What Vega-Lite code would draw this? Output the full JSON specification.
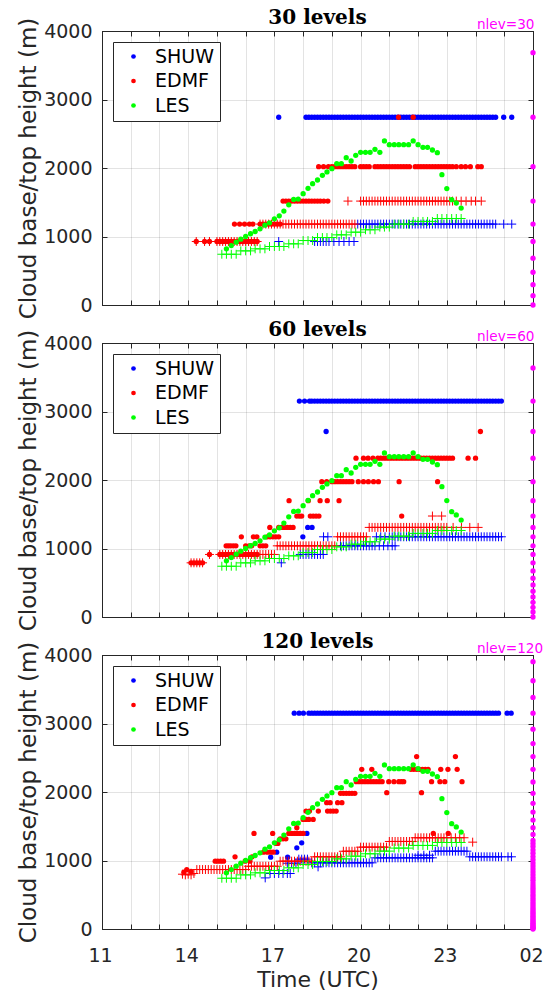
{
"$schema":"https://vega.github.io/schema/vega-lite/v6.json",
"padding":{"left":17,"top":7,"right":0,"bottom":0},
"datasets":{
"s30t":[{"t":17.15,"h":2741},{"t":18.1,"h":2741},{"t":18.2,"h":2741},{"t":18.3,"h":2741},{"t":18.4,"h":2741},{"t":18.5,"h":2741},{"t":18.6,"h":2741},{"t":18.7,"h":2741},{"t":18.8,"h":2741},{"t":18.9,"h":2741},{"t":19,"h":2741},{"t":19.1,"h":2741},{"t":19.2,"h":2741},{"t":19.3,"h":2741},{"t":19.4,"h":2741},{"t":19.5,"h":2741},{"t":19.6,"h":2741},{"t":19.7,"h":2741},{"t":19.8,"h":2741},{"t":19.9,"h":2741},{"t":20,"h":2741},{"t":20.1,"h":2741},{"t":20.2,"h":2741},{"t":20.3,"h":2741},{"t":20.4,"h":2741},{"t":20.5,"h":2741},{"t":20.6,"h":2741},{"t":20.7,"h":2741},{"t":20.8,"h":2741},{"t":20.9,"h":2741},{"t":21,"h":2741},{"t":21.1,"h":2741},{"t":21.2,"h":2741},{"t":21.3,"h":2741},{"t":21.4,"h":2741},{"t":21.5,"h":2741},{"t":21.6,"h":2741},{"t":21.7,"h":2741},{"t":21.8,"h":2741},{"t":21.9,"h":2741},{"t":22,"h":2741},{"t":22.1,"h":2741},{"t":22.2,"h":2741},{"t":22.3,"h":2741},{"t":22.4,"h":2741},{"t":22.5,"h":2741},{"t":22.6,"h":2741},{"t":22.7,"h":2741},{"t":22.8,"h":2741},{"t":22.9,"h":2741},{"t":23,"h":2741},{"t":23.1,"h":2741},{"t":23.2,"h":2741},{"t":23.3,"h":2741},{"t":23.4,"h":2741},{"t":23.5,"h":2741},{"t":23.6,"h":2741},{"t":23.7,"h":2741},{"t":23.8,"h":2741},{"t":23.9,"h":2741},{"t":24,"h":2741},{"t":24.1,"h":2741},{"t":24.2,"h":2741},{"t":24.3,"h":2741},{"t":24.4,"h":2741},{"t":24.5,"h":2741},{"t":24.6,"h":2741},{"t":24.7,"h":2741},{"t":24.98,"h":2741},{"t":25.26,"h":2741}],
"s30b":[{"t":17.15,"h":927},{"t":18.4,"h":927},{"t":18.5,"h":927},{"t":18.6,"h":927},{"t":18.7,"h":927},{"t":18.8,"h":927},{"t":18.9,"h":927},{"t":19.07,"h":927},{"t":19.25,"h":927},{"t":19.42,"h":927},{"t":19.6,"h":927},{"t":19.77,"h":927},{"t":19.9,"h":1181},{"t":20,"h":1181},{"t":20.1,"h":1181},{"t":20.2,"h":1181},{"t":20.3,"h":1181},{"t":20.4,"h":1181},{"t":20.5,"h":1181},{"t":20.6,"h":1181},{"t":20.7,"h":1181},{"t":20.8,"h":1181},{"t":20.9,"h":1181},{"t":21,"h":1181},{"t":21.1,"h":1181},{"t":21.2,"h":1181},{"t":21.3,"h":1181},{"t":21.4,"h":1181},{"t":21.5,"h":1181},{"t":21.6,"h":1181},{"t":21.7,"h":1181},{"t":21.8,"h":1181},{"t":21.9,"h":1181},{"t":22,"h":1181},{"t":22.1,"h":1181},{"t":22.2,"h":1181},{"t":22.3,"h":1181},{"t":22.4,"h":1181},{"t":22.5,"h":1181},{"t":22.6,"h":1181},{"t":22.7,"h":1181},{"t":22.8,"h":1181},{"t":22.9,"h":1181},{"t":23,"h":1181},{"t":23.1,"h":1181},{"t":23.2,"h":1181},{"t":23.3,"h":1181},{"t":23.4,"h":1181},{"t":23.5,"h":1181},{"t":23.6,"h":1181},{"t":23.7,"h":1181},{"t":23.8,"h":1181},{"t":23.9,"h":1181},{"t":24,"h":1181},{"t":24.1,"h":1181},{"t":24.2,"h":1181},{"t":24.3,"h":1181},{"t":24.4,"h":1181},{"t":24.5,"h":1181},{"t":24.6,"h":1181},{"t":24.7,"h":1181},{"t":24.98,"h":1181},{"t":25.26,"h":1181}],
"e30t":[{"t":14.28,"h":927},{"t":14.57,"h":927},{"t":14.74,"h":927},{"t":15,"h":927},{"t":15.1,"h":927},{"t":15.2,"h":927},{"t":15.3,"h":927},{"t":15.4,"h":927},{"t":15.5,"h":927},{"t":15.6,"h":927},{"t":15.7,"h":927},{"t":15.8,"h":927},{"t":15.9,"h":927},{"t":16,"h":927},{"t":16.1,"h":927},{"t":16.2,"h":927},{"t":16.3,"h":927},{"t":16.4,"h":927},{"t":15.61,"h":1181},{"t":15.79,"h":1181},{"t":15.96,"h":1181},{"t":16.13,"h":1181},{"t":16.25,"h":1181},{"t":16.5,"h":1181},{"t":16.6,"h":1181},{"t":16.7,"h":1181},{"t":16.8,"h":1181},{"t":16.9,"h":1181},{"t":17,"h":1181},{"t":17.1,"h":1181},{"t":17.2,"h":1181},{"t":17.3,"h":1517},{"t":17.4,"h":1517},{"t":17.5,"h":1517},{"t":17.6,"h":1517},{"t":17.7,"h":1517},{"t":17.8,"h":1517},{"t":17.9,"h":1517},{"t":18,"h":1517},{"t":18.1,"h":1517},{"t":18.2,"h":1517},{"t":18.3,"h":1517},{"t":18.4,"h":1517},{"t":18.5,"h":1517},{"t":18.6,"h":1517},{"t":18.72,"h":1517},{"t":18.86,"h":1517},{"t":18.54,"h":2020},{"t":18.71,"h":2020},{"t":18.88,"h":2020},{"t":19,"h":2020},{"t":19.1,"h":2020},{"t":19.2,"h":2020},{"t":19.3,"h":2020},{"t":19.4,"h":2020},{"t":19.5,"h":2020},{"t":19.6,"h":2020},{"t":19.7,"h":2020},{"t":19.8,"h":2020},{"t":20,"h":2020},{"t":20.1,"h":2020},{"t":20.2,"h":2020},{"t":20.3,"h":2020},{"t":20.5,"h":2020},{"t":20.6,"h":2020},{"t":20.7,"h":2020},{"t":20.8,"h":2020},{"t":20.9,"h":2020},{"t":21,"h":2020},{"t":21.1,"h":2020},{"t":21.2,"h":2020},{"t":21.3,"h":2020},{"t":21.4,"h":2020},{"t":21.5,"h":2020},{"t":21.6,"h":2020},{"t":21.7,"h":2020},{"t":21.9,"h":2020},{"t":22,"h":2020},{"t":22.1,"h":2020},{"t":22.2,"h":2020},{"t":22.3,"h":2020},{"t":22.4,"h":2020},{"t":22.5,"h":2020},{"t":22.6,"h":2020},{"t":22.7,"h":2020},{"t":22.8,"h":2020},{"t":22.9,"h":2020},{"t":23,"h":2020},{"t":23.1,"h":2020},{"t":23.2,"h":2020},{"t":23.33,"h":2020},{"t":23.5,"h":2020},{"t":23.65,"h":2020},{"t":23.82,"h":2020},{"t":24.08,"h":2020},{"t":24.2,"h":2020},{"t":21.32,"h":2741},{"t":21.83,"h":2741}],
"e30b":[{"t":14.28,"h":927},{"t":14.57,"h":927},{"t":14.74,"h":927},{"t":15,"h":927},{"t":15.1,"h":927},{"t":15.2,"h":927},{"t":15.3,"h":927},{"t":15.4,"h":927},{"t":15.5,"h":927},{"t":15.6,"h":927},{"t":15.7,"h":927},{"t":15.8,"h":927},{"t":15.9,"h":927},{"t":16,"h":927},{"t":16.1,"h":927},{"t":16.2,"h":927},{"t":16.3,"h":927},{"t":16.4,"h":927},{"t":16.5,"h":1181},{"t":16.6,"h":1181},{"t":16.7,"h":1181},{"t":16.8,"h":1181},{"t":16.9,"h":1181},{"t":17,"h":1181},{"t":17.1,"h":1181},{"t":17.2,"h":1181},{"t":17.3,"h":1181},{"t":17.4,"h":1181},{"t":17.5,"h":1181},{"t":17.6,"h":1181},{"t":17.7,"h":1181},{"t":17.8,"h":1181},{"t":17.9,"h":1181},{"t":18,"h":1181},{"t":18.1,"h":1181},{"t":18.2,"h":1181},{"t":18.3,"h":1181},{"t":18.4,"h":1181},{"t":18.5,"h":1181},{"t":18.6,"h":1181},{"t":18.7,"h":1181},{"t":18.8,"h":1181},{"t":18.9,"h":1181},{"t":19,"h":1181},{"t":19.1,"h":1181},{"t":19.2,"h":1181},{"t":19.3,"h":1181},{"t":19.4,"h":1181},{"t":19.5,"h":1181},{"t":19.6,"h":1181},{"t":19.7,"h":1181},{"t":19.8,"h":1181},{"t":19.56,"h":1517},{"t":20,"h":1517},{"t":20.1,"h":1517},{"t":20.2,"h":1517},{"t":20.3,"h":1517},{"t":20.4,"h":1517},{"t":20.5,"h":1517},{"t":20.6,"h":1517},{"t":20.7,"h":1517},{"t":20.8,"h":1517},{"t":20.9,"h":1517},{"t":21,"h":1517},{"t":21.1,"h":1517},{"t":21.2,"h":1517},{"t":21.3,"h":1517},{"t":21.4,"h":1517},{"t":21.5,"h":1517},{"t":21.6,"h":1517},{"t":21.7,"h":1517},{"t":21.8,"h":1517},{"t":21.9,"h":1517},{"t":22,"h":1517},{"t":22.1,"h":1517},{"t":22.2,"h":1517},{"t":22.3,"h":1517},{"t":22.4,"h":1517},{"t":22.5,"h":1517},{"t":22.6,"h":1517},{"t":22.7,"h":1517},{"t":22.8,"h":1517},{"t":22.9,"h":1517},{"t":23,"h":1517},{"t":23.1,"h":1517},{"t":23.2,"h":1517},{"t":23.33,"h":1517},{"t":23.5,"h":1517},{"t":23.67,"h":1517},{"t":23.85,"h":1517},{"t":24,"h":1517},{"t":24.2,"h":1517}],
"lt":[{"t":15.33,"h":820},{"t":15.5,"h":868},{"t":15.67,"h":917},{"t":15.83,"h":961},{"t":16,"h":1000},{"t":16.17,"h":1040},{"t":16.33,"h":1073},{"t":16.5,"h":1112},{"t":16.67,"h":1166},{"t":16.83,"h":1200},{"t":17,"h":1258},{"t":17.17,"h":1302},{"t":17.33,"h":1371},{"t":17.5,"h":1463},{"t":17.67,"h":1541},{"t":17.83,"h":1546},{"t":18,"h":1625},{"t":18.17,"h":1704},{"t":18.33,"h":1771},{"t":18.5,"h":1825},{"t":18.67,"h":1893},{"t":18.83,"h":1942},{"t":19,"h":1990},{"t":19.17,"h":2063},{"t":19.33,"h":2063},{"t":19.5,"h":2151},{"t":19.67,"h":2102},{"t":19.83,"h":2185},{"t":20,"h":2229},{"t":20.17,"h":2229},{"t":20.33,"h":2229},{"t":20.5,"h":2273},{"t":20.67,"h":2229},{"t":20.83,"h":2395},{"t":21,"h":2341},{"t":21.17,"h":2341},{"t":21.33,"h":2341},{"t":21.5,"h":2341},{"t":21.67,"h":2341},{"t":21.83,"h":2395},{"t":22,"h":2341},{"t":22.17,"h":2302},{"t":22.33,"h":2302},{"t":22.5,"h":2263},{"t":22.67,"h":2224},{"t":22.83,"h":1902},{"t":23,"h":1700},{"t":23.17,"h":1537},{"t":23.33,"h":1490},{"t":23.5,"h":1415}],
"lb":[{"t":15.17,"h":741},{"t":15.33,"h":741},{"t":15.5,"h":741},{"t":15.67,"h":741},{"t":15.83,"h":790},{"t":16,"h":790},{"t":16.17,"h":790},{"t":16.33,"h":820},{"t":16.5,"h":820},{"t":16.67,"h":820},{"t":16.83,"h":854},{"t":17,"h":854},{"t":17.17,"h":854},{"t":17.33,"h":854},{"t":17.5,"h":893},{"t":17.67,"h":893},{"t":17.83,"h":893},{"t":18,"h":941},{"t":18.17,"h":941},{"t":18.33,"h":941},{"t":18.5,"h":985},{"t":18.67,"h":985},{"t":18.83,"h":985},{"t":19,"h":985},{"t":19.17,"h":1024},{"t":19.33,"h":1024},{"t":19.5,"h":1024},{"t":19.67,"h":1063},{"t":19.83,"h":1063},{"t":20,"h":1063},{"t":20.17,"h":1098},{"t":20.33,"h":1098},{"t":20.5,"h":1098},{"t":20.67,"h":1137},{"t":20.83,"h":1137},{"t":21,"h":1137},{"t":21.17,"h":1181},{"t":21.33,"h":1181},{"t":21.5,"h":1181},{"t":21.67,"h":1181},{"t":21.83,"h":1220},{"t":22,"h":1220},{"t":22.17,"h":1220},{"t":22.33,"h":1220},{"t":22.5,"h":1220},{"t":22.67,"h":1263},{"t":22.83,"h":1263},{"t":23,"h":1263},{"t":23.17,"h":1263},{"t":23.33,"h":1263},{"t":23.5,"h":1263}],
"s60t":[{"t":17.87,"h":3152},{"t":18.05,"h":3152},{"t":18.22,"h":3152},{"t":18.3,"h":3152},{"t":18.4,"h":3152},{"t":18.5,"h":3152},{"t":18.6,"h":3152},{"t":18.7,"h":3152},{"t":18.8,"h":3152},{"t":18.9,"h":3152},{"t":19,"h":3152},{"t":19.1,"h":3152},{"t":19.2,"h":3152},{"t":19.3,"h":3152},{"t":19.4,"h":3152},{"t":19.5,"h":3152},{"t":19.6,"h":3152},{"t":19.7,"h":3152},{"t":19.8,"h":3152},{"t":19.9,"h":3152},{"t":20,"h":3152},{"t":20.1,"h":3152},{"t":20.2,"h":3152},{"t":20.3,"h":3152},{"t":20.4,"h":3152},{"t":20.5,"h":3152},{"t":20.6,"h":3152},{"t":20.7,"h":3152},{"t":20.8,"h":3152},{"t":20.9,"h":3152},{"t":21,"h":3152},{"t":21.1,"h":3152},{"t":21.2,"h":3152},{"t":21.3,"h":3152},{"t":21.4,"h":3152},{"t":21.5,"h":3152},{"t":21.6,"h":3152},{"t":21.7,"h":3152},{"t":21.8,"h":3152},{"t":21.9,"h":3152},{"t":22,"h":3152},{"t":22.1,"h":3152},{"t":22.2,"h":3152},{"t":22.3,"h":3152},{"t":22.4,"h":3152},{"t":22.5,"h":3152},{"t":22.6,"h":3152},{"t":22.7,"h":3152},{"t":22.8,"h":3152},{"t":22.9,"h":3152},{"t":23,"h":3152},{"t":23.1,"h":3152},{"t":23.2,"h":3152},{"t":23.3,"h":3152},{"t":23.4,"h":3152},{"t":23.5,"h":3152},{"t":23.6,"h":3152},{"t":23.7,"h":3152},{"t":23.8,"h":3152},{"t":23.9,"h":3152},{"t":24,"h":3152},{"t":24.1,"h":3152},{"t":24.2,"h":3152},{"t":24.3,"h":3152},{"t":24.4,"h":3152},{"t":24.5,"h":3152},{"t":24.6,"h":3152},{"t":24.7,"h":3152},{"t":24.8,"h":3152},{"t":24.9,"h":3152},{"t":18.8,"h":2708},{"t":18.16,"h":1308},{"t":18.31,"h":1308},{"t":17.99,"h":1171}],
"s60b":[{"t":17.24,"h":791},{"t":17.9,"h":913},{"t":18,"h":913},{"t":18.1,"h":913},{"t":18.2,"h":913},{"t":18.3,"h":913},{"t":18.4,"h":913},{"t":18.5,"h":913},{"t":18.6,"h":913},{"t":18.7,"h":913},{"t":18.71,"h":1171},{"t":18.86,"h":1171},{"t":19.3,"h":1039},{"t":19.4,"h":1039},{"t":19.5,"h":1039},{"t":19.6,"h":1039},{"t":19.7,"h":1039},{"t":19.8,"h":1039},{"t":19.9,"h":1039},{"t":20,"h":1039},{"t":20.1,"h":1039},{"t":20.2,"h":1039},{"t":20.3,"h":1039},{"t":20.4,"h":1039},{"t":20.5,"h":1039},{"t":20.65,"h":1039},{"t":20.8,"h":1039},{"t":20.95,"h":1039},{"t":21.1,"h":1039},{"t":21.2,"h":1039},{"t":20.55,"h":1171},{"t":20.7,"h":1171},{"t":20.85,"h":1171},{"t":21,"h":1171},{"t":21.1,"h":1171},{"t":21.2,"h":1171},{"t":21.3,"h":1171},{"t":21.4,"h":1171},{"t":21.5,"h":1171},{"t":21.6,"h":1171},{"t":21.7,"h":1171},{"t":21.8,"h":1171},{"t":21.9,"h":1171},{"t":22,"h":1171},{"t":22.1,"h":1171},{"t":22.2,"h":1171},{"t":22.3,"h":1171},{"t":22.4,"h":1171},{"t":22.5,"h":1171},{"t":22.6,"h":1171},{"t":22.7,"h":1171},{"t":22.8,"h":1171},{"t":22.9,"h":1171},{"t":23,"h":1171},{"t":23.1,"h":1171},{"t":23.2,"h":1171},{"t":23.3,"h":1171},{"t":23.4,"h":1171},{"t":23.5,"h":1171},{"t":23.6,"h":1171},{"t":23.7,"h":1171},{"t":23.8,"h":1171},{"t":23.9,"h":1171},{"t":24,"h":1171},{"t":24.1,"h":1171},{"t":24.2,"h":1171},{"t":24.3,"h":1171},{"t":24.4,"h":1171},{"t":24.5,"h":1171},{"t":24.6,"h":1171},{"t":24.7,"h":1171},{"t":24.8,"h":1171},{"t":24.9,"h":1171}],
"e60t":[{"t":14.1,"h":791},{"t":14.2,"h":791},{"t":14.3,"h":791},{"t":14.4,"h":791},{"t":14.5,"h":791},{"t":14.74,"h":913},{"t":15.1,"h":913},{"t":15.2,"h":913},{"t":15.3,"h":913},{"t":15.4,"h":913},{"t":15.5,"h":913},{"t":15.6,"h":913},{"t":15.7,"h":913},{"t":15.8,"h":913},{"t":15.9,"h":913},{"t":16,"h":913},{"t":16.1,"h":913},{"t":16.2,"h":913},{"t":16.3,"h":913},{"t":16.4,"h":913},{"t":15.32,"h":1039},{"t":15.4,"h":1039},{"t":15.48,"h":1039},{"t":15.57,"h":1039},{"t":15.66,"h":1039},{"t":16,"h":1039},{"t":16.12,"h":1039},{"t":16.21,"h":1039},{"t":16.5,"h":1039},{"t":16.6,"h":1039},{"t":16.7,"h":1039},{"t":15.85,"h":1171},{"t":16.27,"h":1171},{"t":16.39,"h":1171},{"t":16.75,"h":1171},{"t":16.85,"h":1171},{"t":16.95,"h":1171},{"t":17.05,"h":1171},{"t":17.15,"h":1171},{"t":16.84,"h":1308},{"t":17.15,"h":1308},{"t":17.25,"h":1308},{"t":17.35,"h":1308},{"t":17.45,"h":1308},{"t":17.55,"h":1308},{"t":17.65,"h":1308},{"t":17.78,"h":1474},{"t":17.87,"h":1474},{"t":17.95,"h":1474},{"t":18.25,"h":1474},{"t":18.35,"h":1474},{"t":18.45,"h":1474},{"t":18.55,"h":1474},{"t":21.43,"h":1474},{"t":17.51,"h":1698},{"t":18.18,"h":1698},{"t":18.59,"h":1698},{"t":18.84,"h":1698},{"t":19.25,"h":1698},{"t":18.65,"h":1976},{"t":18.82,"h":1976},{"t":19,"h":1976},{"t":19.1,"h":1976},{"t":19.2,"h":1976},{"t":19.3,"h":1976},{"t":19.4,"h":1976},{"t":19.5,"h":1976},{"t":19.6,"h":1976},{"t":19.7,"h":1976},{"t":19.92,"h":1976},{"t":20.1,"h":1976},{"t":20.27,"h":1976},{"t":20.45,"h":1976},{"t":20.62,"h":1976},{"t":21.34,"h":1976},{"t":22.68,"h":1976},{"t":19.84,"h":2318},{"t":20.1,"h":2318},{"t":20.26,"h":2318},{"t":20.43,"h":2318},{"t":20.6,"h":2318},{"t":20.7,"h":2318},{"t":20.8,"h":2318},{"t":20.9,"h":2318},{"t":21,"h":2318},{"t":21.1,"h":2318},{"t":21.2,"h":2318},{"t":21.3,"h":2318},{"t":21.4,"h":2318},{"t":21.5,"h":2318},{"t":21.6,"h":2318},{"t":21.7,"h":2318},{"t":21.8,"h":2318},{"t":21.9,"h":2318},{"t":22,"h":2318},{"t":22.1,"h":2318},{"t":22.2,"h":2318},{"t":22.3,"h":2318},{"t":22.4,"h":2318},{"t":22.5,"h":2318},{"t":22.6,"h":2318},{"t":22.7,"h":2318},{"t":22.8,"h":2318},{"t":22.9,"h":2318},{"t":23,"h":2318},{"t":23.1,"h":2318},{"t":23.2,"h":2318},{"t":23.74,"h":2318},{"t":24,"h":2318},{"t":24.17,"h":2708}],
"e60b":[{"t":14.1,"h":791},{"t":14.2,"h":791},{"t":14.3,"h":791},{"t":14.4,"h":791},{"t":14.5,"h":791},{"t":14.74,"h":913},{"t":15.1,"h":913},{"t":15.2,"h":913},{"t":15.3,"h":913},{"t":15.4,"h":913},{"t":15.5,"h":913},{"t":15.6,"h":913},{"t":15.7,"h":913},{"t":15.8,"h":913},{"t":15.9,"h":913},{"t":16,"h":913},{"t":16.1,"h":913},{"t":16.2,"h":913},{"t":16.3,"h":913},{"t":16.4,"h":913},{"t":16.5,"h":913},{"t":16.6,"h":913},{"t":16.7,"h":913},{"t":16.8,"h":913},{"t":16.9,"h":913},{"t":17,"h":913},{"t":17.1,"h":1039},{"t":17.2,"h":1039},{"t":17.3,"h":1039},{"t":17.4,"h":1039},{"t":17.5,"h":1039},{"t":17.6,"h":1039},{"t":17.7,"h":1039},{"t":17.8,"h":1039},{"t":17.9,"h":1039},{"t":18,"h":1039},{"t":18.1,"h":1039},{"t":18.2,"h":1039},{"t":18.3,"h":1039},{"t":18.4,"h":1039},{"t":18.5,"h":1039},{"t":18.6,"h":1039},{"t":18.7,"h":1039},{"t":18.8,"h":1039},{"t":18.9,"h":1039},{"t":19,"h":1039},{"t":19.1,"h":1039},{"t":19.2,"h":1171},{"t":19.3,"h":1171},{"t":19.4,"h":1171},{"t":19.5,"h":1171},{"t":19.6,"h":1171},{"t":19.7,"h":1171},{"t":19.8,"h":1171},{"t":19.9,"h":1171},{"t":20,"h":1171},{"t":20.1,"h":1171},{"t":20.2,"h":1171},{"t":20.3,"h":1308},{"t":20.4,"h":1308},{"t":20.5,"h":1308},{"t":20.6,"h":1308},{"t":20.7,"h":1308},{"t":20.8,"h":1308},{"t":20.9,"h":1308},{"t":21,"h":1308},{"t":21.1,"h":1308},{"t":21.2,"h":1308},{"t":21.3,"h":1308},{"t":21.4,"h":1308},{"t":21.5,"h":1308},{"t":21.6,"h":1308},{"t":21.7,"h":1308},{"t":21.8,"h":1308},{"t":21.9,"h":1308},{"t":22,"h":1308},{"t":22.1,"h":1308},{"t":22.2,"h":1308},{"t":22.3,"h":1308},{"t":22.4,"h":1308},{"t":22.5,"h":1308},{"t":22.6,"h":1308},{"t":22.7,"h":1308},{"t":22.8,"h":1308},{"t":22.9,"h":1308},{"t":23,"h":1308},{"t":23.22,"h":1308},{"t":23.51,"h":1308},{"t":23.8,"h":1308},{"t":24.09,"h":1308},{"t":22.5,"h":1474},{"t":22.82,"h":1474}],
"s120t":[{"t":17.69,"h":3151},{"t":17.86,"h":3151},{"t":18.01,"h":3151},{"t":18.2,"h":3151},{"t":18.3,"h":3151},{"t":18.4,"h":3151},{"t":18.5,"h":3151},{"t":18.6,"h":3151},{"t":18.7,"h":3151},{"t":18.8,"h":3151},{"t":18.9,"h":3151},{"t":19,"h":3151},{"t":19.1,"h":3151},{"t":19.2,"h":3151},{"t":19.3,"h":3151},{"t":19.4,"h":3151},{"t":19.5,"h":3151},{"t":19.6,"h":3151},{"t":19.7,"h":3151},{"t":19.8,"h":3151},{"t":19.9,"h":3151},{"t":20,"h":3151},{"t":20.1,"h":3151},{"t":20.2,"h":3151},{"t":20.3,"h":3151},{"t":20.4,"h":3151},{"t":20.5,"h":3151},{"t":20.6,"h":3151},{"t":20.7,"h":3151},{"t":20.8,"h":3151},{"t":20.9,"h":3151},{"t":21,"h":3151},{"t":21.1,"h":3151},{"t":21.2,"h":3151},{"t":21.3,"h":3151},{"t":21.4,"h":3151},{"t":21.5,"h":3151},{"t":21.6,"h":3151},{"t":21.7,"h":3151},{"t":21.8,"h":3151},{"t":21.9,"h":3151},{"t":22,"h":3151},{"t":22.1,"h":3151},{"t":22.2,"h":3151},{"t":22.3,"h":3151},{"t":22.4,"h":3151},{"t":22.5,"h":3151},{"t":22.6,"h":3151},{"t":22.7,"h":3151},{"t":22.8,"h":3151},{"t":22.9,"h":3151},{"t":23,"h":3151},{"t":23.1,"h":3151},{"t":23.2,"h":3151},{"t":23.3,"h":3151},{"t":23.4,"h":3151},{"t":23.5,"h":3151},{"t":23.6,"h":3151},{"t":23.7,"h":3151},{"t":23.8,"h":3151},{"t":23.9,"h":3151},{"t":24,"h":3151},{"t":24.1,"h":3151},{"t":24.2,"h":3151},{"t":24.3,"h":3151},{"t":24.4,"h":3151},{"t":24.5,"h":3151},{"t":24.6,"h":3151},{"t":24.7,"h":3151},{"t":24.8,"h":3151},{"t":25.1,"h":3151},{"t":25.24,"h":3151},{"t":18.13,"h":1395},{"t":17.95,"h":1258},{"t":17.78,"h":1185},{"t":17.08,"h":1121},{"t":16.87,"h":1048},{"t":17.46,"h":1048}],
"s120b":[{"t":16.68,"h":746},{"t":16.85,"h":810},{"t":17,"h":810},{"t":17.15,"h":810},{"t":17.3,"h":810},{"t":17.45,"h":810},{"t":17.55,"h":810},{"t":17.45,"h":960},{"t":17.6,"h":960},{"t":17.75,"h":960},{"t":17.85,"h":1020},{"t":17.95,"h":1020},{"t":18.05,"h":1020},{"t":18.15,"h":1020},{"t":18.3,"h":966},{"t":18.4,"h":966},{"t":18.52,"h":907},{"t":18.6,"h":966},{"t":18.7,"h":966},{"t":18.8,"h":966},{"t":18.9,"h":966},{"t":19,"h":966},{"t":19.1,"h":966},{"t":19.2,"h":966},{"t":19.3,"h":966},{"t":19.4,"h":966},{"t":19.5,"h":966},{"t":19.6,"h":966},{"t":19.7,"h":966},{"t":19.8,"h":966},{"t":19.9,"h":966},{"t":20,"h":966},{"t":20.1,"h":966},{"t":20.2,"h":966},{"t":20.3,"h":966},{"t":20.4,"h":966},{"t":20.5,"h":1039},{"t":20.6,"h":1039},{"t":20.7,"h":1039},{"t":20.8,"h":1039},{"t":20.9,"h":1039},{"t":21,"h":1039},{"t":21.1,"h":1039},{"t":21.2,"h":1039},{"t":21.3,"h":1039},{"t":21.4,"h":1039},{"t":21.5,"h":1039},{"t":21.6,"h":1039},{"t":21.7,"h":1039},{"t":21.8,"h":1039},{"t":21.9,"h":1039},{"t":22,"h":1039},{"t":22.1,"h":1039},{"t":22.2,"h":1039},{"t":22.3,"h":1039},{"t":22.4,"h":1039},{"t":22.5,"h":1039},{"t":22,"h":1077},{"t":22.2,"h":1077},{"t":22.4,"h":1077},{"t":22.6,"h":1136},{"t":22.7,"h":1136},{"t":22.8,"h":1136},{"t":22.9,"h":1136},{"t":23,"h":1136},{"t":23.1,"h":1136},{"t":23.2,"h":1136},{"t":23.3,"h":1136},{"t":23.4,"h":1136},{"t":23.5,"h":1136},{"t":23.6,"h":1136},{"t":23.7,"h":1136},{"t":23.8,"h":1054},{"t":23.9,"h":1054},{"t":24,"h":1054},{"t":24.1,"h":1054},{"t":24.2,"h":1054},{"t":24.3,"h":1054},{"t":24.4,"h":1054},{"t":24.5,"h":1054},{"t":24.6,"h":1054},{"t":24.7,"h":1054},{"t":24.8,"h":1054},{"t":24.9,"h":1054},{"t":25.13,"h":1054},{"t":25.25,"h":1054}],
"e120t":[{"t":13.85,"h":830},{"t":13.95,"h":868},{"t":14.1,"h":840},{"t":14.94,"h":990},{"t":15.03,"h":990},{"t":15.13,"h":990},{"t":15.23,"h":990},{"t":15.63,"h":1054},{"t":15.98,"h":990},{"t":16.15,"h":990},{"t":16.22,"h":1054},{"t":16.29,"h":1395},{"t":16.62,"h":1121},{"t":16.75,"h":1121},{"t":16.87,"h":1121},{"t":16.96,"h":1121},{"t":16.94,"h":1395},{"t":17.06,"h":1249},{"t":17.12,"h":1249},{"t":17.2,"h":1317},{"t":17.3,"h":1317},{"t":17.4,"h":1317},{"t":17.5,"h":1395},{"t":17.6,"h":1395},{"t":17.7,"h":1395},{"t":17.8,"h":1395},{"t":17.9,"h":1395},{"t":18,"h":1395},{"t":17.78,"h":1478},{"t":18,"h":1600},{"t":18.1,"h":1600},{"t":18.2,"h":1600},{"t":18.35,"h":1600},{"t":18.1,"h":1721},{"t":18.22,"h":1721},{"t":18.53,"h":1721},{"t":18.85,"h":1721},{"t":18.95,"h":1721},{"t":19.05,"h":1721},{"t":19.15,"h":1721},{"t":18.82,"h":1844},{"t":18.94,"h":1844},{"t":19.2,"h":1844},{"t":19.35,"h":1844},{"t":19.3,"h":1980},{"t":19.4,"h":1980},{"t":19.5,"h":1980},{"t":19.6,"h":1980},{"t":19.7,"h":1980},{"t":19.8,"h":1980},{"t":19.85,"h":2151},{"t":19.95,"h":2151},{"t":20.05,"h":2151},{"t":20.15,"h":2151},{"t":20.25,"h":2151},{"t":20.35,"h":2151},{"t":20.45,"h":2151},{"t":20.55,"h":2151},{"t":20.65,"h":2151},{"t":20.75,"h":2151},{"t":20.91,"h":1990},{"t":20.98,"h":2151},{"t":21.16,"h":2151},{"t":21.33,"h":2151},{"t":21.42,"h":2151},{"t":21.5,"h":2151},{"t":22.12,"h":1990},{"t":22.47,"h":2151},{"t":22.76,"h":2151},{"t":22.93,"h":2151},{"t":23.53,"h":2151},{"t":20.04,"h":2331},{"t":20.39,"h":2331},{"t":21.75,"h":2331},{"t":21.85,"h":2331},{"t":21.95,"h":2331},{"t":22.05,"h":2331},{"t":22.15,"h":2331},{"t":22.25,"h":2331},{"t":22.35,"h":2331},{"t":22.79,"h":2331},{"t":23.04,"h":2331},{"t":23.36,"h":2331},{"t":21.95,"h":2517},{"t":23.3,"h":2517},{"t":22.53,"h":1395},{"t":23.05,"h":1395}],
"e120b":[{"t":13.8,"h":800},{"t":13.9,"h":790},{"t":14,"h":800},{"t":14.1,"h":790},{"t":14.2,"h":810},{"t":14.3,"h":868},{"t":14.4,"h":868},{"t":14.5,"h":868},{"t":14.6,"h":868},{"t":14.7,"h":868},{"t":14.8,"h":868},{"t":14.9,"h":868},{"t":15,"h":868},{"t":15.1,"h":868},{"t":15.2,"h":868},{"t":15.3,"h":868},{"t":15.4,"h":868},{"t":15.5,"h":868},{"t":15.6,"h":868},{"t":15.7,"h":868},{"t":15.8,"h":868},{"t":15.9,"h":868},{"t":16,"h":868},{"t":16.1,"h":916},{"t":16.2,"h":916},{"t":16.3,"h":916},{"t":16.4,"h":916},{"t":16.5,"h":916},{"t":16.6,"h":916},{"t":16.7,"h":916},{"t":16.8,"h":916},{"t":16.9,"h":916},{"t":17,"h":916},{"t":17.1,"h":916},{"t":17.2,"h":990},{"t":17.3,"h":990},{"t":17.4,"h":990},{"t":17.5,"h":990},{"t":17.6,"h":990},{"t":17.7,"h":990},{"t":17.8,"h":990},{"t":17.9,"h":990},{"t":18,"h":990},{"t":18.1,"h":990},{"t":18.2,"h":990},{"t":18.3,"h":990},{"t":18.4,"h":1054},{"t":18.5,"h":1054},{"t":18.6,"h":1054},{"t":18.7,"h":1054},{"t":18.8,"h":1054},{"t":18.9,"h":1054},{"t":19,"h":1054},{"t":19.1,"h":1054},{"t":19.2,"h":1054},{"t":19.3,"h":1054},{"t":19.4,"h":1135},{"t":19.5,"h":1135},{"t":19.6,"h":1135},{"t":19.7,"h":1135},{"t":19.8,"h":1135},{"t":19.9,"h":1135},{"t":20,"h":1195},{"t":20.1,"h":1195},{"t":20.2,"h":1195},{"t":20.3,"h":1195},{"t":20.4,"h":1195},{"t":20.5,"h":1195},{"t":20.6,"h":1195},{"t":20.7,"h":1195},{"t":20.8,"h":1195},{"t":20.9,"h":1195},{"t":21,"h":1278},{"t":21.1,"h":1278},{"t":21.2,"h":1278},{"t":21.3,"h":1278},{"t":21.4,"h":1278},{"t":21.5,"h":1278},{"t":21.6,"h":1278},{"t":21.7,"h":1278},{"t":21.8,"h":1278},{"t":21.9,"h":1332},{"t":22,"h":1332},{"t":22.1,"h":1332},{"t":22.2,"h":1332},{"t":22.3,"h":1332},{"t":22.4,"h":1332},{"t":22.5,"h":1332},{"t":22.6,"h":1332},{"t":22.7,"h":1332},{"t":22.8,"h":1332},{"t":22.9,"h":1332},{"t":23,"h":1332},{"t":23.15,"h":1332},{"t":23.3,"h":1332},{"t":23.45,"h":1332},{"t":23.6,"h":1332},{"t":23.9,"h":1268}],
"m30":[{"h":0},{"h":136},{"h":297},{"h":478},{"h":683},{"h":927},{"h":1181},{"h":1517},{"h":2020},{"h":2741},{"h":3684}],
"m60":[{"h":0},{"h":73},{"h":142},{"h":215},{"h":293},{"h":376},{"h":468},{"h":566},{"h":673},{"h":791},{"h":913},{"h":1039},{"h":1171},{"h":1308},{"h":1474},{"h":1698},{"h":1976},{"h":2318},{"h":2708},{"h":3152},{"h":3635}],
"m120":[{"h":0},{"h":10},{"h":22},{"h":35},{"h":50},{"h":66},{"h":83},{"h":101},{"h":120},{"h":140},{"h":161},{"h":183},{"h":206},{"h":230},{"h":255},{"h":281},{"h":308},{"h":336},{"h":365},{"h":395},{"h":426},{"h":458},{"h":491},{"h":525},{"h":560},{"h":596},{"h":633},{"h":671},{"h":710},{"h":750},{"h":791},{"h":833},{"h":876},{"h":920},{"h":965},{"h":1011},{"h":1058},{"h":1106},{"h":1155},{"h":1205},{"h":1250},{"h":1292},{"h":1380},{"h":1478},{"h":1590},{"h":1707},{"h":1834},{"h":1980},{"h":2146},{"h":2331},{"h":2517},{"h":2707},{"h":2917},{"h":3151},{"h":3381},{"h":3624},{"h":3902}]
},
"spacing":38,
"bounds":"flush",
"resolve":{"scale":{"color":"independent"},"legend":{"color":"independent"}},
"vconcat":[
{"width":431,"height":274,"title":"30 levels","resolve":{"axis":{"x":"independent","y":"independent"}},
"layer":[
{"data":{"name":"m30"},"mark":{"type":"point","shape":"circle","filled":true,"size":28,"color":"#ff00ff","opacity":1},
"encoding":{"x":{"datum":26,"type":"quantitative","scale":{"domain":[11,26],"nice":false,"zero":false},"axis":{"orient":"bottom","values":[11,12,13,14,15,16,17,18,19,20,21,22,23,24,25,26],"labels":false,"title":null,"grid":true}},
"y":{"field":"h","type":"quantitative","scale":{"domain":[0,4000],"nice":false},"axis":{"orient":"left","values":[0,1000,2000,3000,4000],"format":"d","grid":true,"title":"Cloud base/top height (m)"}}}},
{"data":{"name":"s30t"},"mark":{"type":"point","shape":"circle","filled":true,"size":28,"opacity":1},
"encoding":{"x":{"field":"t","type":"quantitative","scale":{"domain":[11,26],"nice":false,"zero":false},"axis":null},"y":{"field":"h","type":"quantitative","scale":{"domain":[0,4000],"nice":false},"axis":null},
"color":{"datum":"SHUW","type":"nominal","scale":{"domain":["SHUW","EDMF","LES"],"range":["#0000ff","#ff0000","#00ff00"]},"legend":{"title":null}}}},
{"data":{"name":"s30b"},"mark":{"type":"point","shape":"M-1,0L1,0M0,-1L0,1","filled":false,"stroke":"#0000ff","strokeWidth":1,"size":80,"opacity":1},
"encoding":{"x":{"field":"t","type":"quantitative","scale":{"domain":[11,26],"nice":false,"zero":false},"axis":null},"y":{"field":"h","type":"quantitative","scale":{"domain":[0,4000],"nice":false},"axis":null}}},
{"data":{"name":"e30t"},"mark":{"type":"point","shape":"circle","filled":true,"size":28,"opacity":1},
"encoding":{"x":{"field":"t","type":"quantitative","scale":{"domain":[11,26],"nice":false,"zero":false},"axis":null},"y":{"field":"h","type":"quantitative","scale":{"domain":[0,4000],"nice":false},"axis":null},
"color":{"datum":"EDMF","type":"nominal","scale":{"domain":["SHUW","EDMF","LES"],"range":["#0000ff","#ff0000","#00ff00"]},"legend":{"title":null}}}},
{"data":{"name":"e30b"},"mark":{"type":"point","shape":"M-1,0L1,0M0,-1L0,1","filled":false,"stroke":"#ff0000","strokeWidth":1,"size":80,"opacity":1},
"encoding":{"x":{"field":"t","type":"quantitative","scale":{"domain":[11,26],"nice":false,"zero":false},"axis":null},"y":{"field":"h","type":"quantitative","scale":{"domain":[0,4000],"nice":false},"axis":null}}},
{"data":{"name":"lt"},"mark":{"type":"point","shape":"circle","filled":true,"size":28,"opacity":1},
"encoding":{"x":{"field":"t","type":"quantitative","scale":{"domain":[11,26],"nice":false,"zero":false},"axis":null},"y":{"field":"h","type":"quantitative","scale":{"domain":[0,4000],"nice":false},"axis":null},
"color":{"datum":"LES","type":"nominal","scale":{"domain":["SHUW","EDMF","LES"],"range":["#0000ff","#ff0000","#00ff00"]},"legend":{"title":null}}}},
{"data":{"name":"lb"},"mark":{"type":"point","shape":"M-1,0L1,0M0,-1L0,1","filled":false,"stroke":"#00ff00","strokeWidth":1,"size":80,"opacity":1},
"encoding":{"x":{"field":"t","type":"quantitative","scale":{"domain":[11,26],"nice":false,"zero":false},"axis":null},"y":{"field":"h","type":"quantitative","scale":{"domain":[0,4000],"nice":false},"axis":null}}},
{"data":{"values":[{"label":"nlev=30"}]},"mark":{"type":"text","align":"left","baseline":"alphabetic","dy":-2,"color":"#ff00ff","font":"DejaVu Sans","fontSize":13.6},
"encoding":{"text":{"field":"label"},"x":{"datum":24.05,"type":"quantitative","scale":{"domain":[11,26],"nice":false,"zero":false},"axis":{"orient":"top","values":[11,12,13,14,15,16,17,18,19,20,21,22,23,24,25,26],"labels":false,"grid":false,"title":null}},
"y":{"datum":4000,"type":"quantitative","scale":{"domain":[0,4000],"nice":false},"axis":{"orient":"right","values":[0,1000,2000,3000,4000],"labels":false,"grid":false,"title":null}}}}
]},
{"width":431,"height":274,"title":"60 levels","resolve":{"axis":{"x":"independent","y":"independent"}},
"layer":[
{"data":{"name":"m60"},"mark":{"type":"point","shape":"circle","filled":true,"size":28,"color":"#ff00ff","opacity":1},
"encoding":{"x":{"datum":26,"type":"quantitative","scale":{"domain":[11,26],"nice":false,"zero":false},"axis":{"orient":"bottom","values":[11,12,13,14,15,16,17,18,19,20,21,22,23,24,25,26],"labels":false,"title":null,"grid":true}},
"y":{"field":"h","type":"quantitative","scale":{"domain":[0,4000],"nice":false},"axis":{"orient":"left","values":[0,1000,2000,3000,4000],"format":"d","grid":true,"title":"Cloud base/top height (m)"}}}},
{"data":{"name":"s60t"},"mark":{"type":"point","shape":"circle","filled":true,"size":28,"opacity":1},
"encoding":{"x":{"field":"t","type":"quantitative","scale":{"domain":[11,26],"nice":false,"zero":false},"axis":null},"y":{"field":"h","type":"quantitative","scale":{"domain":[0,4000],"nice":false},"axis":null},
"color":{"datum":"SHUW","type":"nominal","scale":{"domain":["SHUW","EDMF","LES"],"range":["#0000ff","#ff0000","#00ff00"]},"legend":{"title":null}}}},
{"data":{"name":"s60b"},"mark":{"type":"point","shape":"M-1,0L1,0M0,-1L0,1","filled":false,"stroke":"#0000ff","strokeWidth":1,"size":80,"opacity":1},
"encoding":{"x":{"field":"t","type":"quantitative","scale":{"domain":[11,26],"nice":false,"zero":false},"axis":null},"y":{"field":"h","type":"quantitative","scale":{"domain":[0,4000],"nice":false},"axis":null}}},
{"data":{"name":"e60t"},"mark":{"type":"point","shape":"circle","filled":true,"size":28,"opacity":1},
"encoding":{"x":{"field":"t","type":"quantitative","scale":{"domain":[11,26],"nice":false,"zero":false},"axis":null},"y":{"field":"h","type":"quantitative","scale":{"domain":[0,4000],"nice":false},"axis":null},
"color":{"datum":"EDMF","type":"nominal","scale":{"domain":["SHUW","EDMF","LES"],"range":["#0000ff","#ff0000","#00ff00"]},"legend":{"title":null}}}},
{"data":{"name":"e60b"},"mark":{"type":"point","shape":"M-1,0L1,0M0,-1L0,1","filled":false,"stroke":"#ff0000","strokeWidth":1,"size":80,"opacity":1},
"encoding":{"x":{"field":"t","type":"quantitative","scale":{"domain":[11,26],"nice":false,"zero":false},"axis":null},"y":{"field":"h","type":"quantitative","scale":{"domain":[0,4000],"nice":false},"axis":null}}},
{"data":{"name":"lt"},"mark":{"type":"point","shape":"circle","filled":true,"size":28,"opacity":1},
"encoding":{"x":{"field":"t","type":"quantitative","scale":{"domain":[11,26],"nice":false,"zero":false},"axis":null},"y":{"field":"h","type":"quantitative","scale":{"domain":[0,4000],"nice":false},"axis":null},
"color":{"datum":"LES","type":"nominal","scale":{"domain":["SHUW","EDMF","LES"],"range":["#0000ff","#ff0000","#00ff00"]},"legend":{"title":null}}}},
{"data":{"name":"lb"},"mark":{"type":"point","shape":"M-1,0L1,0M0,-1L0,1","filled":false,"stroke":"#00ff00","strokeWidth":1,"size":80,"opacity":1},
"encoding":{"x":{"field":"t","type":"quantitative","scale":{"domain":[11,26],"nice":false,"zero":false},"axis":null},"y":{"field":"h","type":"quantitative","scale":{"domain":[0,4000],"nice":false},"axis":null}}},
{"data":{"values":[{"label":"nlev=60"}]},"mark":{"type":"text","align":"left","baseline":"alphabetic","dy":-2,"color":"#ff00ff","font":"DejaVu Sans","fontSize":13.6},
"encoding":{"text":{"field":"label"},"x":{"datum":24.05,"type":"quantitative","scale":{"domain":[11,26],"nice":false,"zero":false},"axis":{"orient":"top","values":[11,12,13,14,15,16,17,18,19,20,21,22,23,24,25,26],"labels":false,"grid":false,"title":null}},
"y":{"datum":4000,"type":"quantitative","scale":{"domain":[0,4000],"nice":false},"axis":{"orient":"right","values":[0,1000,2000,3000,4000],"labels":false,"grid":false,"title":null}}}}
]},
{"width":431,"height":274,"title":"120 levels","resolve":{"axis":{"x":"independent","y":"independent"}},
"layer":[
{"data":{"name":"m120"},"mark":{"type":"point","shape":"circle","filled":true,"size":28,"color":"#ff00ff","opacity":1},
"encoding":{"x":{"datum":26,"type":"quantitative","scale":{"domain":[11,26],"nice":false,"zero":false},"axis":{"orient":"bottom","values":[11,12,13,14,15,16,17,18,19,20,21,22,23,24,25,26],"labelExpr":"datum.value % 3 == 2 ? (datum.value >= 24 ? '0' + (datum.value - 24) : '' + datum.value) : ''","labelOffset":-2,"title":"Time (UTC)","grid":true}},
"y":{"field":"h","type":"quantitative","scale":{"domain":[0,4000],"nice":false},"axis":{"orient":"left","values":[0,1000,2000,3000,4000],"format":"d","grid":true,"title":"Cloud base/top height (m)"}}}},
{"data":{"name":"s120t"},"mark":{"type":"point","shape":"circle","filled":true,"size":28,"opacity":1},
"encoding":{"x":{"field":"t","type":"quantitative","scale":{"domain":[11,26],"nice":false,"zero":false},"axis":null},"y":{"field":"h","type":"quantitative","scale":{"domain":[0,4000],"nice":false},"axis":null},
"color":{"datum":"SHUW","type":"nominal","scale":{"domain":["SHUW","EDMF","LES"],"range":["#0000ff","#ff0000","#00ff00"]},"legend":{"title":null}}}},
{"data":{"name":"s120b"},"mark":{"type":"point","shape":"M-1,0L1,0M0,-1L0,1","filled":false,"stroke":"#0000ff","strokeWidth":1,"size":80,"opacity":1},
"encoding":{"x":{"field":"t","type":"quantitative","scale":{"domain":[11,26],"nice":false,"zero":false},"axis":null},"y":{"field":"h","type":"quantitative","scale":{"domain":[0,4000],"nice":false},"axis":null}}},
{"data":{"name":"e120t"},"mark":{"type":"point","shape":"circle","filled":true,"size":28,"opacity":1},
"encoding":{"x":{"field":"t","type":"quantitative","scale":{"domain":[11,26],"nice":false,"zero":false},"axis":null},"y":{"field":"h","type":"quantitative","scale":{"domain":[0,4000],"nice":false},"axis":null},
"color":{"datum":"EDMF","type":"nominal","scale":{"domain":["SHUW","EDMF","LES"],"range":["#0000ff","#ff0000","#00ff00"]},"legend":{"title":null}}}},
{"data":{"name":"e120b"},"mark":{"type":"point","shape":"M-1,0L1,0M0,-1L0,1","filled":false,"stroke":"#ff0000","strokeWidth":1,"size":80,"opacity":1},
"encoding":{"x":{"field":"t","type":"quantitative","scale":{"domain":[11,26],"nice":false,"zero":false},"axis":null},"y":{"field":"h","type":"quantitative","scale":{"domain":[0,4000],"nice":false},"axis":null}}},
{"data":{"name":"lt"},"mark":{"type":"point","shape":"circle","filled":true,"size":28,"opacity":1},
"encoding":{"x":{"field":"t","type":"quantitative","scale":{"domain":[11,26],"nice":false,"zero":false},"axis":null},"y":{"field":"h","type":"quantitative","scale":{"domain":[0,4000],"nice":false},"axis":null},
"color":{"datum":"LES","type":"nominal","scale":{"domain":["SHUW","EDMF","LES"],"range":["#0000ff","#ff0000","#00ff00"]},"legend":{"title":null}}}},
{"data":{"name":"lb"},"mark":{"type":"point","shape":"M-1,0L1,0M0,-1L0,1","filled":false,"stroke":"#00ff00","strokeWidth":1,"size":80,"opacity":1},
"encoding":{"x":{"field":"t","type":"quantitative","scale":{"domain":[11,26],"nice":false,"zero":false},"axis":null},"y":{"field":"h","type":"quantitative","scale":{"domain":[0,4000],"nice":false},"axis":null}}},
{"data":{"values":[{"label":"nlev=120"}]},"mark":{"type":"text","align":"left","baseline":"alphabetic","dy":-2,"color":"#ff00ff","font":"DejaVu Sans","fontSize":13.6},
"encoding":{"text":{"field":"label"},"x":{"datum":24.05,"type":"quantitative","scale":{"domain":[11,26],"nice":false,"zero":false},"axis":{"orient":"top","values":[11,12,13,14,15,16,17,18,19,20,21,22,23,24,25,26],"labels":false,"grid":false,"title":null}},
"y":{"datum":4000,"type":"quantitative","scale":{"domain":[0,4000],"nice":false},"axis":{"orient":"right","values":[0,1000,2000,3000,4000],"labels":false,"grid":false,"title":null}}}}
]}
],
"config":{
"view":{"stroke":"#262626","strokeWidth":1},
"font":"DejaVu Sans",
"axis":{"domain":true,"domainColor":"#262626","domainWidth":1,"gridColor":"#262626","gridOpacity":0.13,"gridWidth":1,"tickColor":"#262626","tickWidth":1,"tickSize":-5,"labelFont":"DejaVu Sans","labelFontSize":19,"labelColor":"#262626","labelFlush":false,"labelOverlap":false,"titleFont":"DejaVu Sans","titleFontSize":22,"titleFontWeight":"normal","titleColor":"#262626"},
"axisX":{"labelPadding":22,"titlePadding":4},
"axisY":{"labelPadding":15,"titlePadding":3,"titleFontSize":23},
"title":{"font":"DejaVu Serif","fontSize":20,"fontWeight":"bold","color":"#000000","frame":"group","anchor":"middle","baseline":"alphabetic","offset":-11},
"legend":{"orient":"top-left","offset":11,"padding":5,"strokeColor":"#262626","fillColor":"#ffffff","labelFont":"DejaVu Sans","labelFontSize":19,"labelColor":"#000000","symbolSize":22,"symbolType":"circle","symbolStrokeWidth":0,"rowPadding":4.5,"labelOffset":12,"symbolOffset":6}
}
}
